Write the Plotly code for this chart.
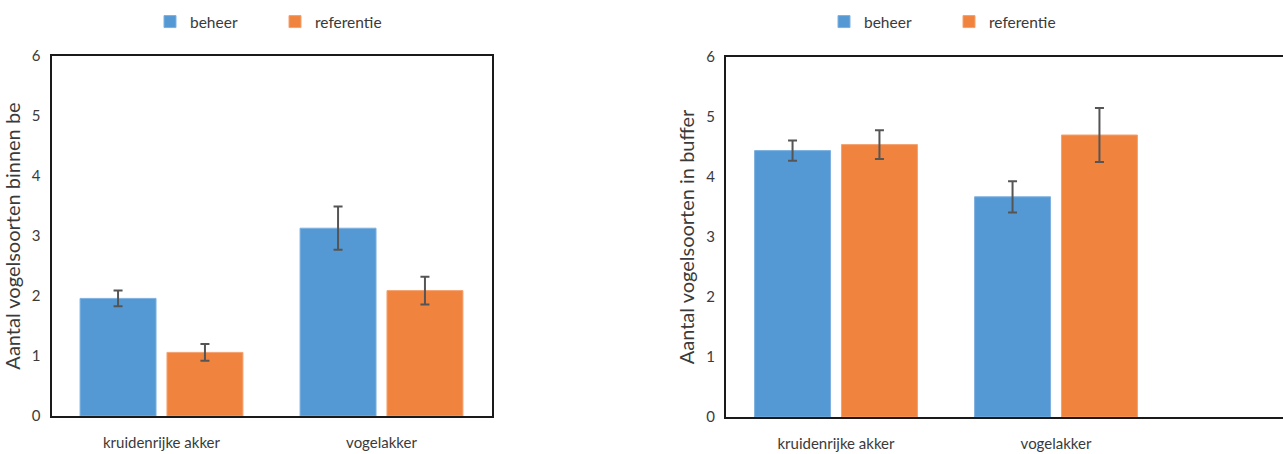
import plotly.graph_objects as go

# Data: mean number of bird species per field type, with error margins
categories = ["kruidenrijke akker", "vogelakker"]
series_names = ["beheer", "referentie"]

binnen_beheer = [1.96, 3.13]
binnen_beheer_err = [0.13, 0.36]
binnen_referentie = [1.06, 2.09]
binnen_referentie_err = [0.14, 0.23]

buffer_beheer = [4.44, 3.67]
buffer_beheer_err = [0.17, 0.26]
buffer_referentie = [4.54, 4.70]
buffer_referentie_err = [0.24, 0.45]

y_ticks = [0, 1, 2, 3, 4, 5, 6]

colors = {"beheer": "#5599D4", "referentie": "#F0843F"}
edge_colors = {"beheer": "#7DB1DF", "referentie": "#F4A26F"}

W, H = 1283, 454
FONT = "Lato"
TEXT = "#3a3a3a"


def px_x(p):
    return p / W


def px_y(p):
    return 1 - p / H


fig = go.Figure()


def add_bars(values, errors, name, xaxis, yaxis, legend):
    fig.add_trace(go.Bar(
        x=categories, y=values, name=name,
        marker=dict(color=colors[name], line=dict(color=edge_colors[name], width=1)),
        error_y=dict(type="data", array=errors, visible=True,
                     color="#555555", thickness=2, width=4.5),
        xaxis=xaxis, yaxis=yaxis, legend=legend,
    ))


add_bars(binnen_beheer, binnen_beheer_err, "beheer", "x", "y", "legend")
add_bars(binnen_referentie, binnen_referentie_err, "referentie", "x", "y", "legend")
add_bars(buffer_beheer, buffer_beheer_err, "beheer", "x2", "y2", "legend2")
add_bars(buffer_referentie, buffer_referentie_err, "referentie", "x2", "y2", "legend2")

axis_common = dict(
    showgrid=False, zeroline=False, showline=True, linecolor="#1a1a1a",
    linewidth=2, ticks="", automargin=False,
    tickfont=dict(family=FONT, size=15, color=TEXT),
)

legend_common = dict(
    orientation="h", xanchor="left", yanchor="middle",
    font=dict(family=FONT, size=15.5, color=TEXT),
    bgcolor="rgba(0,0,0,0)", entrywidth=80, entrywidthmode="pixels",
    itemclick=False, itemdoubleclick=False,
)

fig.update_layout(
    width=W, height=H,
    margin=dict(l=0, r=0, t=0, b=0, autoexpand=False),
    paper_bgcolor="white", plot_bgcolor="white",
    barmode="group", bargap=0.21, bargroupgap=0.126,
    font=dict(family=FONT, color=TEXT),
    xaxis=dict(domain=[px_x(51.5), px_x(491.5)], anchor="y", mirror=True,
               ticklabelstandoff=12, range=[-0.5, 1.5], **axis_common),
    yaxis=dict(domain=[px_y(416), px_y(56)], anchor="x", mirror=True,
               range=[0, 6], tickvals=y_ticks, ticklabelstandoff=6,
               title=dict(text="Aantal vogelsoorten binnen be",
                          font=dict(family=FONT, size=20, color=TEXT), standoff=14),
               **axis_common),
    xaxis2=dict(domain=[px_x(726), 1.0], anchor="y2", mirror=True,
                ticklabelstandoff=12, range=[-0.5, -0.5 + (W - 726) / 220.0],
                **axis_common),
    yaxis2=dict(domain=[px_y(417), px_y(57)], anchor="x2", mirror=False,
                range=[0, 6], tickvals=y_ticks, ticklabelstandoff=6,
                title=dict(text="Aantal vogelsoorten in buffer",
                           font=dict(family=FONT, size=20, color=TEXT), standoff=6),
                **axis_common),
    legend=dict(x=px_x(150), y=px_y(22), **legend_common),
    legend2=dict(x=px_x(824), y=px_y(22), **legend_common),
)

fig.write_html("out.html")
